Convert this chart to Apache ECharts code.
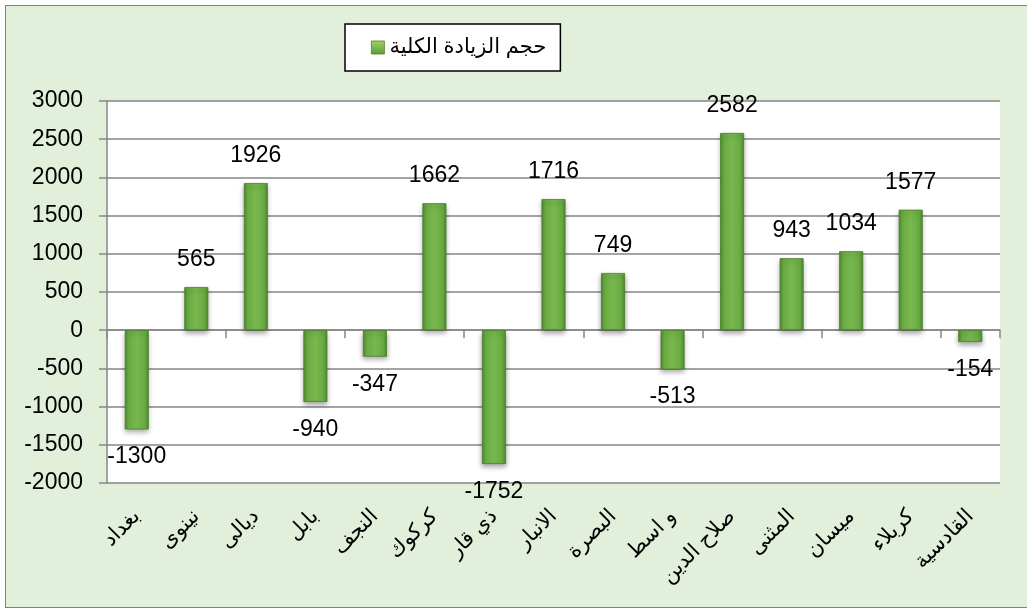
<!DOCTYPE html>
<html>
<head>
<meta charset="utf-8">
<script src="https://cdn.jsdelivr.net/npm/echarts@6/dist/echarts.min.js"></script>
<style>
  html, body { margin: 0; padding: 0; background: #ffffff; }
  #frame { position: absolute; left: 5px; top: 5px; width: 1030px; height: 603px;
           border: 1px solid #808080; background: #e2efda; box-sizing: border-box; }
  #chart { position: absolute; left: 0; top: 0; width: 1027px; height: 610px; }
</style>
</head>
<body>
<div id="frame"></div>
<div id="chart"></div>
<script>
const categories = ['بغداد', 'نينوى', 'ديالى', 'بابل', 'النجف', 'كركوك', 'ذي قار', 'الانبار', 'البصرة', 'و اسط', 'صلاح الدين', 'المثنى', 'ميسان', 'كربلاء', 'القادسية'];
const values = [-1300, 565, 1926, -940, -347, 1662, -1752, 1716, 749, -513, 2582, 943, 1034, 1577, -154];
const seriesName = 'حجم الزيادة الكلية';
const yTicks = { min: -2000, max: 3000, interval: 500 };

const numFont = '"Liberation Sans", Arial, sans-serif';
const arFont = '"Liberation Sans", "DejaVu Sans", Arial, sans-serif';

const barColor = new echarts.graphic.LinearGradient(0, 0, 1, 0, [
  { offset: 0, color: '#4e8a2c' },
  { offset: 0.15, color: '#6aab43' },
  { offset: 0.5, color: '#78b84e' },
  { offset: 0.85, color: '#6aab43' },
  { offset: 1, color: '#4e8a2c' }
]);
const legendColor = new echarts.graphic.LinearGradient(0, 0, 0, 1, [
  { offset: 0, color: '#9fd56a' },
  { offset: 1, color: '#5e9a34' }
]);

const chart = echarts.init(document.getElementById('chart'), null, { renderer: 'canvas' });
chart.setOption({
  animation: false,
  legend: {
    left: 345, top: 24,
    data: [{ name: seriesName, icon: 'rect', itemStyle: { color: legendColor, borderColor: '#4a7f2a', borderWidth: 0.8 } }],
    backgroundColor: '#ffffff',
    borderColor: '#000000',
    borderWidth: 1.5,
    padding: [13, 14, 13, 26],
    itemWidth: 13, itemHeight: 13, itemGap: 4,
    textStyle: { fontFamily: arFont, fontSize: 21, color: '#000' }
  },
  grid: { left: 107, right: 27, top: 101, bottom: 127, show: true, backgroundColor: '#ffffff', borderWidth: 0 },
  xAxis: [
    {
      type: 'category', data: categories,
      axisLine: { onZero: true, lineStyle: { color: '#868686', width: 1.5 } },
      axisTick: { show: true, length: 8, lineStyle: { color: '#868686', width: 1.5 } },
      axisLabel: { show: false }
    },
    {
      type: 'category', data: categories, position: 'bottom',
      axisLine: { show: false }, axisTick: { show: false },
      axisLabel: { rotate: 45, margin: 30, interval: 0, fontFamily: arFont, fontSize: 21, color: '#000' }
    }
  ],
  yAxis: {
    type: 'value', min: yTicks.min, max: yTicks.max, interval: yTicks.interval,
    axisLine: { show: true, lineStyle: { color: '#868686', width: 1.5 } },
    axisTick: { show: true, length: 8, lineStyle: { color: '#868686', width: 1.5 } },
    splitLine: { lineStyle: { color: '#868686', width: 1.5 } },
    axisLabel: { margin: 24, fontFamily: numFont, fontSize: 23, color: '#000', formatter: v => String(v) }
  },
  series: [{
    name: seriesName, type: 'bar', xAxisIndex: 0, barWidth: 24,
    itemStyle: { color: barColor, borderColor: '#4a7f2a', borderWidth: 0.8,
                 shadowColor: 'rgba(0,0,0,0.35)', shadowBlur: 5, shadowOffsetY: 3 },
    label: { show: true, fontFamily: numFont, fontSize: 23, color: '#000', distance: 16 },
    data: values.map(v => ({ value: v, label: { position: v >= 0 ? 'top' : 'bottom' } }))
  }]
});
</script>
</body>
</html>
